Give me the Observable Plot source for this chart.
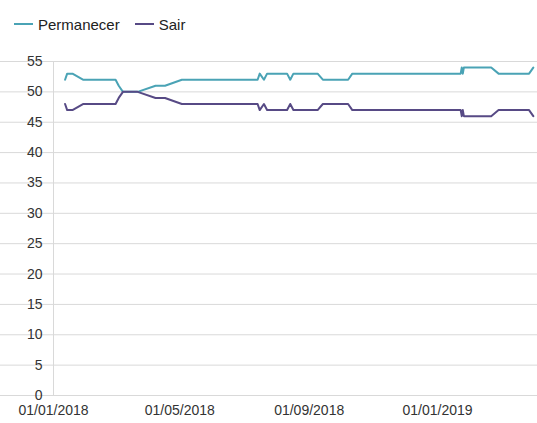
<!DOCTYPE html>
<html>
<head>
<meta charset="utf-8">
<script src="https://cdn.jsdelivr.net/npm/d3@7"></script>
<script src="https://cdn.jsdelivr.net/npm/@observablehq/plot@0.6"></script>
<style>
  body { margin: 0; background: #fff; font-family: "Liberation Sans", Arial, sans-serif; }
  #legend { height: 36px; display: flex; align-items: center; padding-left: 14px; font-size: 15px; color: #222; box-sizing: border-box; padding-top: 12px; }
  .item { display: flex; align-items: center; margin-right: 15px; }
  .sw { width: 19px; height: 2px; margin-right: 5px; }
</style>
</head>
<body>
<div id="legend"></div>
<div id="chart"></div>
<script>
const seriesNames = ["Permanecer", "Sair"];
const seriesColors = ["#4aa3b5", "#574a85"];
const dates = ["2018-01-12","2018-01-14","2018-01-19","2018-01-29","2018-03-01","2018-03-04","2018-03-08","2018-03-22","2018-04-08","2018-04-17","2018-05-03","2018-07-14","2018-07-16","2018-07-20","2018-07-23","2018-08-11","2018-08-14","2018-08-17","2018-09-09","2018-09-14","2018-10-08","2018-10-12","2019-01-23","2019-01-24","2019-01-25","2019-01-26","2019-02-21","2019-02-28","2019-03-29","2019-04-02"];
const permanecer = [52,53,53,52,52,51,50,50,51,51,52,52,53,52,53,53,52,53,53,52,52,53,53,54,53,54,54,53,53,54];
const sair = [48,47,47,48,48,49,50,50,49,49,48,48,47,48,47,47,48,47,47,48,48,47,47,46,47,46,46,47,47,46];
const xTicks = ["2018-01-01","2018-05-01","2018-09-01","2019-01-01"];
const yTicks = [0,5,10,15,20,25,30,35,40,45,50,55];

const data = [];
dates.forEach((d, i) => {
  data.push({date: new Date(d), value: permanecer[i], series: seriesNames[0]});
  data.push({date: new Date(d), value: sair[i], series: seriesNames[1]});
});

const legend = document.getElementById("legend");
seriesNames.forEach((n, i) => {
  const it = document.createElement("div");
  it.className = "item";
  const sw = document.createElement("div");
  sw.className = "sw";
  sw.style.background = seriesColors[i];
  const t = document.createElement("span");
  t.textContent = n;
  it.appendChild(sw); it.appendChild(t);
  legend.appendChild(it);
});

const chart = Plot.plot({
  width: 537,
  height: 387,
  marginTop: 25,
  marginBottom: 28,
  marginLeft: 53,
  marginRight: 0,
  style: {fontFamily: "'Liberation Sans', Arial, sans-serif", fontSize: "14px", color: "#333", background: "#fff"},
  x: {type: "utc", domain: [new Date("2018-01-01"), new Date("2019-04-06")]},
  y: {domain: [0, 55]},
  color: {domain: seriesNames, range: seriesColors},
  marks: [
    Plot.gridY(yTicks, {stroke: "#d9d9d9", strokeOpacity: 1, x1: 48}),
    Plot.ruleX([new Date("2018-01-01")], {stroke: "#d9d9d9"}),
    Plot.axisY(yTicks, {tickSize: 0, tickPadding: 11, label: null, fill: "#333"}),
    Plot.axisX(xTicks.map(d => new Date(d)), {tickSize: 0, tickPadding: 10, tickFormat: d3.utcFormat("%d/%m/%Y"), label: null, fill: "#333"}),
    Plot.line(data, {x: "date", y: "value", z: "series", stroke: "series", strokeWidth: 2})
  ]
});
document.getElementById("chart").appendChild(chart);
</script>
</body>
</html>
